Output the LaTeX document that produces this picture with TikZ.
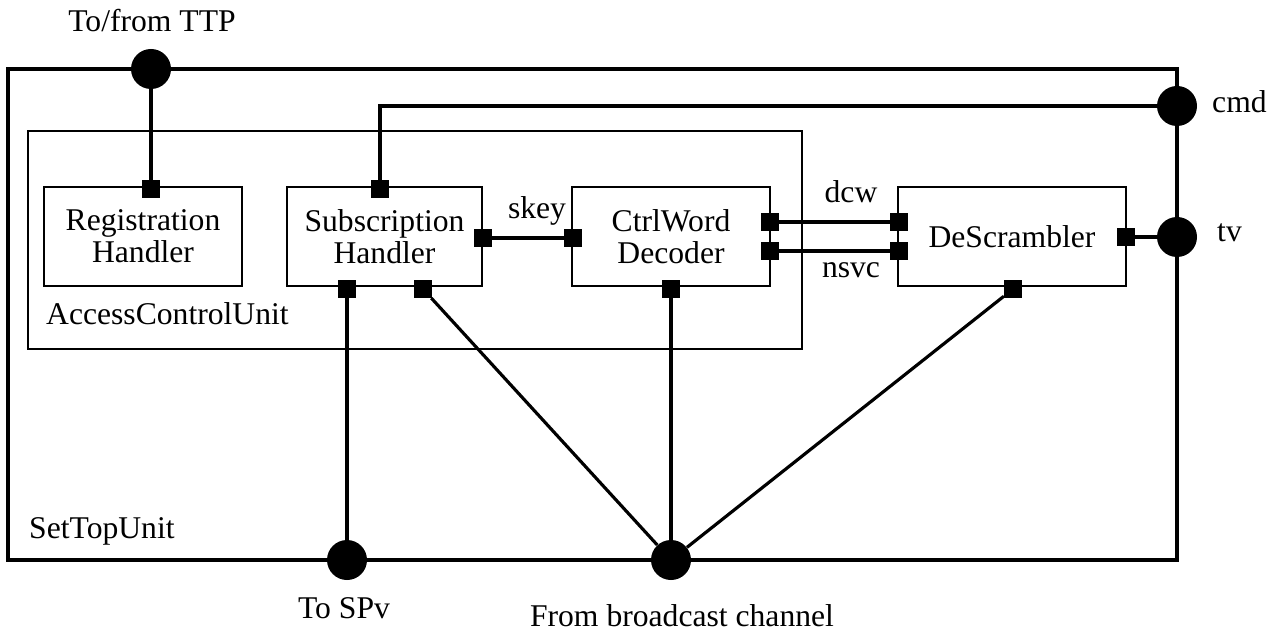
\documentclass[tikz,border=0pt]{standalone}
\usepackage{fontspec}
\setmainfont{Liberation Serif}

\begin{document}
\begin{tikzpicture}[x=0.2mm, y=-0.2mm, every node/.style={font=\fontsize{18}{18}\selectfont},
	box/.style={draw, line width=1.5pt, minimum height=19.8mm, align=center, inner sep=0pt},
	port/.style={fill, inner sep=0pt, minimum size=3.5mm},
	pin/.style={circle, fill, inner sep=0pt, minimum size=8mm},
	wire/.style={line width=1.8pt}]
	\useasboundingbox (0,0) rectangle (1279,632);
	\draw[line width=1.8pt] (8,69) rectangle (1177,560);
	\draw[line width=1.5pt] (28,131) rectangle (802,349);
	\node[anchor=base west] (stu) at (23,538) {SetTopUnit};
	\node[anchor=base west] (acu) at (40,325) {AccessControlUnit};

	\node[box, minimum width=39.6mm] (reg) at (143,236.5) {Registration\\Handler};
	\node[box, minimum width=39mm] (sub) at (384.5,236.5) {Subscription\\Handler};
	\node[box, minimum width=39.6mm] (ctrl) at (671,236.5) {CtrlWord\\Decoder};
	\node[box, minimum width=45.6mm] (des) at (1012,236.5) {DeScrambler};

	\node[port] (regT) at (151,189) {};
	\node[port] (subT) at (380,189) {};
	\node[port] (subR) at (483,238) {};
	\node[port] (subB1) at (347,289) {};
	\node[port] (subB2) at (423,289) {};
	\node[port] (ctrlL) at (573,238) {};
	\node[port] (ctrlB) at (671,289) {};
	\node[port] (ctrlR1) at (770,222) {};
	\node[port] (ctrlR2) at (770,251) {};
	\node[port] (desL1) at (899,222) {};
	\node[port] (desL2) at (899,251) {};
	\node[port] (desR) at (1126,237) {};
	\node[port] (desB) at (1013,289) {};

	\node[pin] (ttp) at (151,69) {};
	\node[pin] (cmd) at (1177,106) {};
	\node[pin] (tv) at (1177,237) {};
	\node[pin] (spv) at (347,560) {};
	\node[pin] (bcast) at (671,560) {};

	\draw[wire] (ttp) -- (regT);
	\draw[wire] (subT) |- (cmd);
	\draw[wire] (subR) -- (ctrlL);
	\draw[wire] (ctrlR1) -- (desL1);
	\draw[wire] (ctrlR2) -- (desL2);
	\draw[wire] (desR) -- (tv);
	\draw[wire] (subB1) -- (spv);
	\draw[wire] (subB2) -- (bcast);
	\draw[wire] (ctrlB) -- (bcast);
	\draw[wire] (desB) -- (bcast);

	\node[anchor=base] at (537,219) {skey};
	\node[anchor=base] at (851,203) {dcw};
	\node[anchor=base] at (851,278) {nsvc};
	\node[anchor=base] at (152,32) {To/from TTP};
	\node[anchor=base west] at (1206,113) {cmd};
	\node[anchor=base west] at (1211,242) {tv};
	\node[anchor=base] at (344,618) {To SPv};
	\node[anchor=base] at (682,626) {From broadcast channel};
\end{tikzpicture}
\end{document}
